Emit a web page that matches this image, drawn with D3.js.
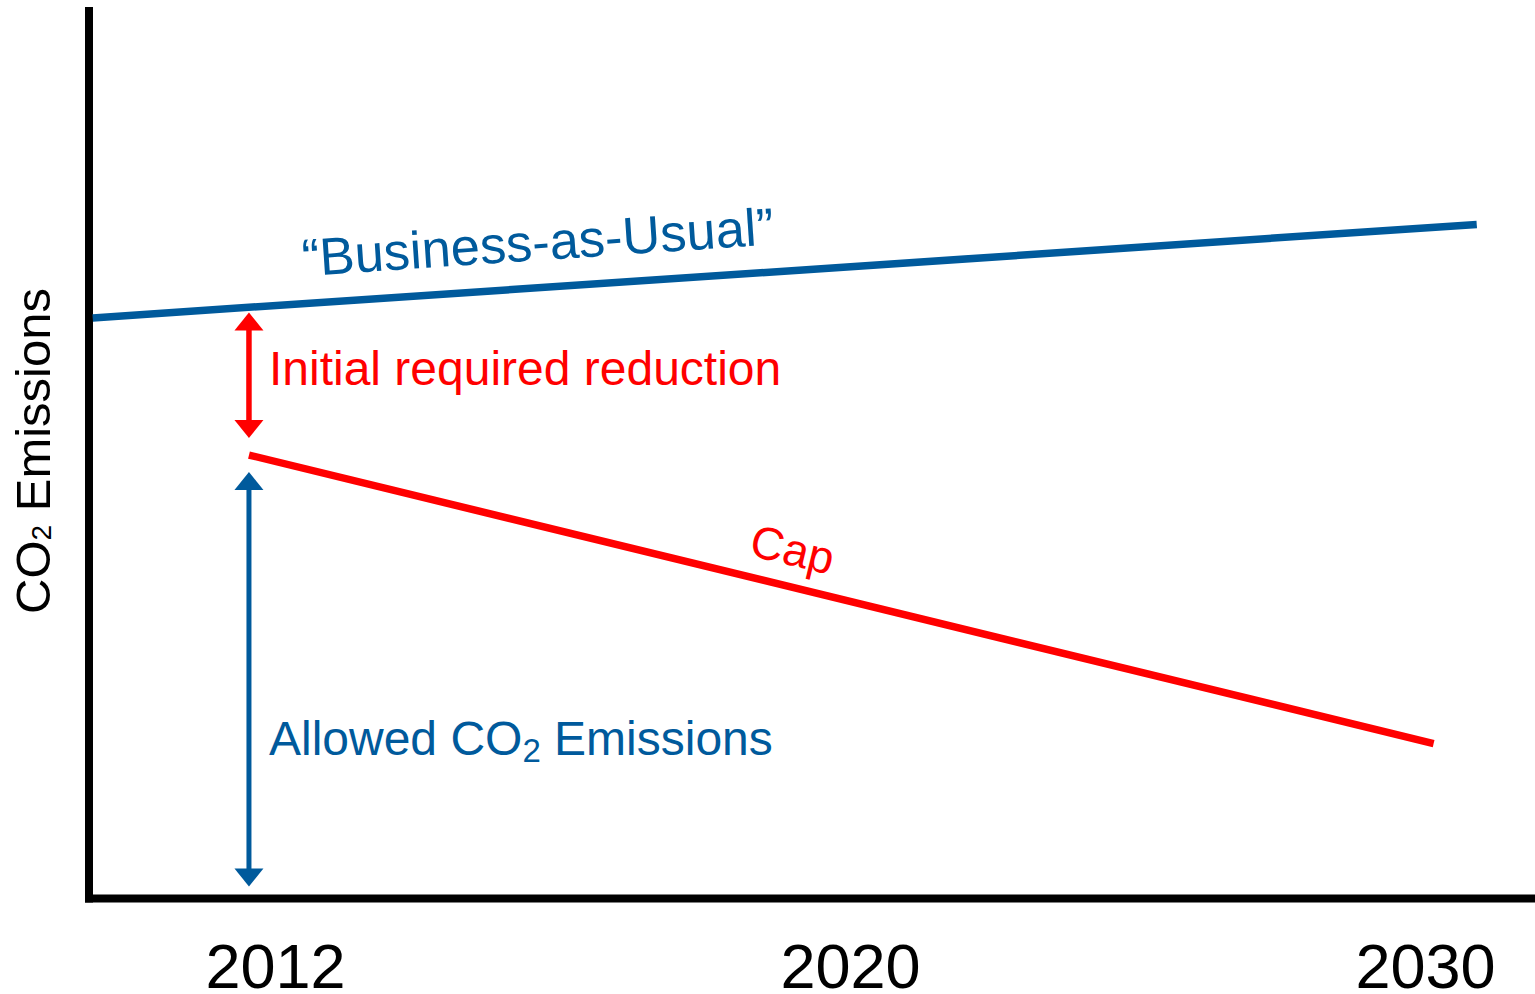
<!DOCTYPE html>
<html>
<head>
<meta charset="utf-8">
<script src="https://cdn.jsdelivr.net/npm/d3@7/dist/d3.min.js"></script>
<style>
  html, body { margin: 0; padding: 0; background: #ffffff; }
  svg { display: block; }
  text { font-family: "Liberation Sans", Arial, Helvetica, sans-serif; }
</style>
</head>
<body>
<svg id="chart" width="1535" height="994"></svg>
<script>
// Labelled years on the time axis
const yearLabels = [2012, 2020, 2030];
// Break points of the (schematic) time scale: axis origin, labelled years, right edge
const yearStops = [2009.5, 2012, 2020, 2030, 2032];

// "Business-as-Usual" emissions path (relative units)
const bauYears = [2009.55, 2030.9];
const bauValues = [65.2, 75.7];

// Emissions cap
const capYears = [2011.65, 2030.15];
const capValues = [49.8, 17.4];

// Vertical arrows drawn where the cap starts
const arrowYear = 2011.65;
const reductionArrow = [51.7, 65.8];
const allowedArrow = [1.35, 47.9];

const BLUE = "#005a9c";
const RED = "#ff0000";

const W = 1535, H = 994;
const svg = d3.select("#chart");

const x = d3.scaleLinear()
  .domain(yearStops)
  .range([89, 275, 850, 1425, 1540]);

const y = d3.scaleLinear()
  .domain([0, 100])
  .range([898.5, 8]);

// Axes lines
svg.append("line")
  .attr("x1", x(yearStops[0])).attr("x2", x(yearStops[0]))
  .attr("y1", y(100) - 1).attr("y2", y(0) + 4)
  .attr("stroke", "#000").attr("stroke-width", 8);
svg.append("line")
  .attr("x1", x(yearStops[0]) - 4).attr("x2", W)
  .attr("y1", y(0)).attr("y2", y(0))
  .attr("stroke", "#000").attr("stroke-width", 8);

// Year labels along the bottom
const xAxis = d3.axisBottom(x)
  .tickValues(yearLabels)
  .tickFormat(d3.format("d"))
  .tickSize(0)
  .tickSizeOuter(0);
const gx = svg.append("g")
  .attr("transform", `translate(0, 988)`)
  .call(xAxis);
gx.select(".domain").remove();
gx.selectAll("text")
  .attr("y", 0).attr("dy", 0)
  .attr("fill", "#000")
  .style("font-size", "63px")
  .style("font-family", '"Liberation Sans", Arial, sans-serif');

// Y axis title
const yTitle = svg.append("text")
  .attr("transform", `translate(50, ${(290 + 612) / 2}) rotate(-90)`)
  .attr("text-anchor", "middle")
  .attr("fill", "#000")
  .style("font-size", "49px");
yTitle.append("tspan").text("CO");
yTitle.append("tspan").text("2").style("font-size", "28px").attr("dy", 1);
yTitle.append("tspan").text(" Emissions").attr("dy", -1);

// Emission paths
const line = d3.line().x(d => x(d[0])).y(d => y(d[1]));

const bauPts = d3.zip(bauYears, bauValues);
const capPts = d3.zip(capYears, capValues);

svg.append("path")
  .datum(bauPts)
  .attr("d", line)
  .attr("fill", "none")
  .attr("stroke", BLUE)
  .attr("stroke-width", 7.5)
  .attr("stroke-linecap", "butt");

svg.append("path")
  .datum(capPts)
  .attr("d", line)
  .attr("fill", "none")
  .attr("stroke", RED)
  .attr("stroke-width", 7.5)
  .attr("stroke-linecap", "butt");

// Double-headed vertical arrow
function drawArrow(year, values, color, shaftW) {
  const ax = x(year);
  const yTop = y(d3.max(values));
  const yBot = y(d3.min(values));
  const headL = 18, headHalf = 14.5;
  const g = svg.append("g");
  g.append("line")
    .attr("x1", ax).attr("x2", ax)
    .attr("y1", yTop + headL - 1).attr("y2", yBot - headL + 1)
    .attr("stroke", color).attr("stroke-width", shaftW);
  g.append("path")
    .attr("d", `M${ax},${yTop} L${ax + headHalf},${yTop + headL} L${ax - headHalf},${yTop + headL} Z`)
    .attr("fill", color);
  g.append("path")
    .attr("d", `M${ax},${yBot} L${ax + headHalf},${yBot - headL} L${ax - headHalf},${yBot - headL} Z`)
    .attr("fill", color);
}
drawArrow(arrowYear, reductionArrow, RED, 5.5);
drawArrow(arrowYear, allowedArrow, BLUE, 5);

// Arrow captions
svg.append("text")
  .attr("x", x(arrowYear) + 20)
  .attr("y", 385)
  .attr("fill", RED)
  .style("font-size", "48px")
  .text("Initial required reduction");

const allowed = svg.append("text")
  .attr("x", x(arrowYear) + 20)
  .attr("y", 755)
  .attr("fill", BLUE)
  .style("font-size", "48px");
allowed.append("tspan").text("Allowed CO");
allowed.append("tspan").text("2").style("font-size", "33px").attr("dy", 7);
allowed.append("tspan").text(" Emissions").attr("dy", -7);

// Labels set along each path, rotated with it
function pathLabel(pts, atX, offset, text, color, size) {
  const p0 = [x(pts[0][0]), y(pts[0][1])];
  const p1 = [x(pts[1][0]), y(pts[1][1])];
  const t = (atX - p0[0]) / (p1[0] - p0[0]);
  const py = p0[1] + t * (p1[1] - p0[1]);
  const ang = Math.atan2(p1[1] - p0[1], p1[0] - p0[0]) * 180 / Math.PI;
  svg.append("text")
    .attr("transform", `translate(${atX}, ${py}) rotate(${ang})`)
    .attr("x", 0).attr("y", -offset)
    .attr("text-anchor", "middle")
    .attr("fill", color)
    .style("font-size", size + "px")
    .text(text);
}
pathLabel(bauPts, x(2015.7), 27.5, "\u201CBusiness-as-Usual\u201D", BLUE, 52.5);
pathLabel(capPts, x(2019.08), 21, "Cap", RED, 46);
</script>
</body>
</html>
